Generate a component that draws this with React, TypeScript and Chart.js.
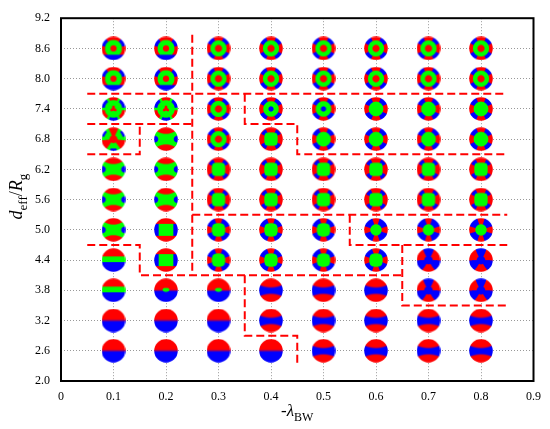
import React, { useEffect, useRef } from "react";
import { Chart, registerables } from "chart.js";

Chart.register(...registerables);

// ---- data ----
const xCategories = [0.1, 0.2, 0.3, 0.4, 0.5, 0.6, 0.7, 0.8];
const yLevels = [2.6, 3.2, 3.8, 4.4, 5.0, 5.6, 6.2, 6.8, 7.4, 8.0, 8.6];
// mode pattern code of each marker, one string per y level (columns follow xCategories)
const modeRows = [
  "AAAABBBB", // 2.6
  "AAABBBBB", // 3.2
  "CDDBBBQQ", // 3.8
  "CNOOOOQQ", // 4.4
  "ENOOOPPP", // 5.0
  "EEMMMMMM", // 5.6
  "EEMMMMMM", // 6.2
  "KEGMJJJJ", // 6.8
  "HHGIIJJJ", // 7.4
  "FFGGGGGG", // 8.0
  "FFGGGGGG", // 8.6
];

const xTicks = [0, 0.1, 0.2, 0.3, 0.4, 0.5, 0.6, 0.7, 0.8, 0.9];
const xTickLabels = ["0", "0.1", "0.2", "0.3", "0.4", "0.5", "0.6", "0.7", "0.8", "0.9"];
const yTicks = [2.0, 2.6, 3.2, 3.8, 4.4, 5.0, 5.6, 6.2, 6.8, 7.4, 8.0, 8.6, 9.2];
const yTickLabels = ["2.0", "2.6", "3.2", "3.8", "4.4", "5.0", "5.6", "6.2", "6.8", "7.4", "8.0", "8.6", "9.2"];

// dashed region boundaries [x, y]
const boundary1 = [[0.25, 8.87], [0.25, 4.1]];
const boundary2 = [[0.05, 7.7], [0.85, 7.7]];
const boundary3 = [[0.05, 7.1], [0.25, 7.1]];
const boundary4 = [[0.05, 6.5], [0.15, 6.5], [0.15, 7.1]];
const boundary5 = [[0.35, 7.7], [0.35, 7.1], [0.45, 7.1], [0.45, 6.5], [0.85, 6.5]];
const boundary6 = [[0.25, 5.3], [0.85, 5.3]];
const boundary7 = [[0.05, 4.7], [0.15, 4.7], [0.15, 4.1], [0.65, 4.1]];
const boundary8 = [[0.55, 5.3], [0.55, 4.7], [0.85, 4.7]];
const boundary9 = [[0.65, 4.7], [0.65, 3.5], [0.85, 3.5]];
const boundary10 = [[0.35, 4.1], [0.35, 2.9], [0.45, 2.9], [0.45, 2.3]];
const boundaries = [boundary1, boundary2, boundary3, boundary4, boundary5, boundary6, boundary7, boundary8, boundary9, boundary10];

// ---- marker images ----
type RGB = [number, number, number];
const RED: RGB = [255, 0, 0];
const GRN: RGB = [0, 255, 0];
const BLU: RGB = [0, 0, 255];

function mix(a: RGB, b: RGB, t: number): RGB {
  const k = Math.max(0, Math.min(1, t));
  return [a[0] + (b[0] - a[0]) * k, a[1] + (b[1] - a[1]) * k, a[2] + (b[2] - a[2]) * k];
}

function modeColor(code: string, u: number, v: number): RGB {
  const r = Math.hypot(u, v);
  const th = Math.atan2(v, u);
  const phi = Math.atan2(u, v); // from top, clockwise
  const c4 = Math.cos(4 * th);
  const c3 = Math.cos(3 * phi);
  const au = Math.abs(u);
  const av = Math.abs(v);
  switch (code) {
    case "A":
      return mix(BLU, RED, (v + 0.12) / 0.24);
    case "B": {
      const top = 0.24 + 0.22 * u * u;
      const bot = -0.3 - 0.22 * u * u;
      const d = Math.min(top - v, v - bot); // >0 inside blue band
      return mix(RED, BLU, (d + 0.08) / 0.16);
    }
    case "C":
      return v > 0.3 ? RED : v > -0.18 ? GRN : BLU;
    case "D":
      if ((u / 0.3) ** 2 + ((v - 0.04) / 0.17) ** 2 < 1) return GRN;
      return mix(BLU, RED, (v + 0.1) / 0.16);
    case "E":
      if (av > 0.45 + 0.35 * u * u) return RED;
      if (((au - 1) / 0.34) ** 2 + (v / 0.3) ** 2 < 1) return BLU;
      return GRN;
    case "N":
      if (av > 0.52) return RED;
      if (au > 0.62) return BLU;
      return GRN;
    case "F": {
      if (r < 0.27) return RED;
      if (v < -0.55) return BLU;
      if (r > 0.72) {
        const a = Math.abs(phi) * 180 / Math.PI;
        if (a < 38) return RED;
        if (a < 78) return BLU;
        return RED;
      }
      return GRN;
    }
    case "G":
      if (r < 0.3) return RED;
      if (r < 0.68) return GRN;
      return c4 < -0.15 ? BLU : RED;
    case "I":
      if (r < 0.22) return BLU;
      if (r < 0.66) return GRN;
      return c4 < -0.15 ? BLU : RED;
    case "J":
      if (r < 0.62) return GRN;
      return c4 < -0.1 ? BLU : RED;
    case "M": {
      const s = Math.pow(u ** 4 + v ** 4, 0.25);
      if (s < 0.56) return GRN;
      return c4 < -0.4 && r < 0.95 ? BLU : RED;
    }
    case "O": {
      const s = Math.pow(au ** 3 + av ** 3, 1 / 3);
      if (s < 0.56) return GRN;
      return c4 < 0.2 ? BLU : RED;
    }
    case "P":
      if (r < 0.48) return GRN;
      return c4 < 0.3 ? BLU : RED;
    case "H":
      if (r < 0.22 * (1 + 0.35 * c3)) return RED;
      if (r > 0.74) {
        if (c3 > 0.35) return RED;
        if (c3 < -0.35) return BLU;
      }
      return GRN;
    case "K":
      if (r < 0.33 || (r > 0.2 && c3 > 0.3)) return RED;
      if (r > 0.8 && c3 < -0.65) return BLU;
      return GRN;
    case "Q":
      if (r > 0.36 && c3 < 0.4 * r - 0.25) return RED;
      return BLU;
    default:
      return GRN;
  }
}

function makeMarker(code: string, size: number, radius: number): HTMLCanvasElement {
  const m = 3;
  const big = size + 2 * m;
  const tmp = document.createElement("canvas");
  tmp.width = big;
  tmp.height = big;
  const tctx = tmp.getContext("2d")!;
  const img = tctx.createImageData(big, big);
  const c = big / 2;
  const ss = 3;
  for (let j = 0; j < big; j++) {
    for (let i = 0; i < big; i++) {
      let rr = 0, gg = 0, bb = 0;
      for (let a = 0; a < ss; a++) {
        for (let b = 0; b < ss; b++) {
          const u = (i + (a + 0.5) / ss - c) / radius;
          const v = -(j + (b + 0.5) / ss - c) / radius;
          const col = modeColor(code, u, v);
          rr += col[0]; gg += col[1]; bb += col[2];
        }
      }
      const k = (j * big + i) * 4;
      img.data[k] = rr / (ss * ss);
      img.data[k + 1] = gg / (ss * ss);
      img.data[k + 2] = bb / (ss * ss);
      img.data[k + 3] = 255;
    }
  }
  tctx.putImageData(img, 0, 0);
  const out = document.createElement("canvas");
  out.width = size;
  out.height = size;
  const octx = out.getContext("2d")!;
  octx.filter = "blur(0.55px)";
  octx.drawImage(tmp, -m, -m);
  octx.filter = "none";
  octx.globalCompositeOperation = "destination-in";
  octx.beginPath();
  octx.arc(size / 2, size / 2, radius, 0, Math.PI * 2);
  octx.fill();
  return out;
}

// ---- rich text titles ----
type Run = { text: string; italic?: boolean; sub?: boolean };
const FONT = '"Liberation Serif", "Times New Roman", serif';
const xTitleRuns: Run[] = [{ text: "-" }, { text: "λ", italic: true }, { text: "BW", sub: true }];
const yTitleRuns: Run[] = [
  { text: "d", italic: true },
  { text: "eff", sub: true },
  { text: "/" },
  { text: "R", italic: true },
  { text: "g", sub: true },
];

function drawRuns(ctx: CanvasRenderingContext2D, runs: Run[], main: number, sub: number, subShift: number) {
  const fontOf = (r: Run) => `${r.italic ? "italic " : ""}${r.sub ? sub : main}px ${FONT}`;
  let total = 0;
  const widths = runs.map((r) => {
    ctx.font = fontOf(r);
    const w = ctx.measureText(r.text).width;
    total += w;
    return w;
  });
  let x = -total / 2;
  ctx.textAlign = "left";
  ctx.textBaseline = "alphabetic";
  ctx.fillStyle = "#000";
  runs.forEach((r, i) => {
    ctx.font = fontOf(r);
    ctx.fillText(r.text, x, r.sub ? subShift : 0);
    x += widths[i];
  });
}

const decorPlugin = {
  id: "decor",
  afterDraw(chart: any) {
    const { ctx, chartArea } = chart;
    ctx.save();
    ctx.strokeStyle = "#000";
    ctx.lineWidth = 2;
    ctx.setLineDash([]);
    ctx.strokeRect(chartArea.left, chartArea.top, chartArea.right - chartArea.left, chartArea.bottom - chartArea.top);
    ctx.restore();

    const cx = (chartArea.left + chartArea.right) / 2;
    ctx.save();
    ctx.translate(cx, 416);
    drawRuns(ctx, xTitleRuns, 17, 12, 5);
    ctx.restore();

    const cy = (chartArea.top + chartArea.bottom) / 2;
    ctx.save();
    ctx.translate(22, cy - 3);
    ctx.rotate(-Math.PI / 2);
    drawRuns(ctx, yTitleRuns, 18, 13, 5);
    ctx.restore();
  },
};

export default function App() {
  const ref = useRef<HTMLCanvasElement | null>(null);
  useEffect(() => {
    document.body.style.margin = "0";
    const canvas = ref.current;
    if (!canvas) return;

    const cache: Record<string, HTMLCanvasElement> = {};
    const points: { x: number; y: number }[] = [];
    const styles: HTMLCanvasElement[] = [];
    yLevels.forEach((y, ri) => {
      xCategories.forEach((x, ci) => {
        const code = modeRows[ri][ci];
        if (!cache[code]) cache[code] = makeMarker(code, 24, 11.8);
        points.push({ x, y });
        styles.push(cache[code]);
      });
    });

    const lineSets = boundaries.map((b) => ({
      type: "scatter" as const,
      data: b.map(([x, y]) => ({ x, y })),
      showLine: true,
      borderColor: "#ff0000",
      borderWidth: 2,
      borderDash: [8, 4],
      pointRadius: 0,
      fill: false,
      order: 0,
    }));

    const tickFont = { family: FONT, size: 12 };

    const chart = new Chart(canvas, {
      type: "scatter",
      data: {
        datasets: [
          ...lineSets,
          {
            data: points,
            pointStyle: styles as any,
            pointRadius: 12,
            order: 1,
          } as any,
        ],
      },
      options: {
        animation: false,
        responsive: false,
        maintainAspectRatio: false,
        layout: { padding: { left: 0, top: 11, right: 10, bottom: 0 } },
        plugins: { legend: { display: false }, tooltip: { enabled: false } },
        scales: {
          x: {
            type: "linear",
            min: 0,
            max: 0.9,
            afterBuildTicks: (s: any) => {
              s.ticks = xTicks.map((value) => ({ value }));
            },
            afterFit: (s: any) => {
              s.height = 48;
            },
            grid: { color: "#999", lineWidth: 1, drawTicks: false },
            border: { display: false, dash: [1, 2] },
            ticks: {
              padding: 9,
              color: "#000",
              font: tickFont,
              maxRotation: 0,
              autoSkip: false,
              callback: (_v: any, i: number) => xTickLabels[i],
            },
          },
          y: {
            type: "linear",
            min: 2.0,
            max: 9.2,
            afterBuildTicks: (s: any) => {
              s.ticks = yTicks.map((value) => ({ value }));
            },
            afterFit: (s: any) => {
              s.width = 61;
            },
            grid: { color: "#999", lineWidth: 1, drawTicks: false },
            border: { display: false, dash: [1, 2] },
            ticks: {
              padding: 11,
              color: "#000",
              font: tickFont,
              autoSkip: false,
              callback: (_v: any, i: number) => yTickLabels[i],
            },
          },
        },
      } as any,
      plugins: [decorPlugin],
    });
    return () => chart.destroy();
  }, []);

  return (
    <div style={{ width: 550, height: 429 }}>
      <canvas ref={ref} width={550} height={429} style={{ display: "block" }} />
    </div>
  );
}
